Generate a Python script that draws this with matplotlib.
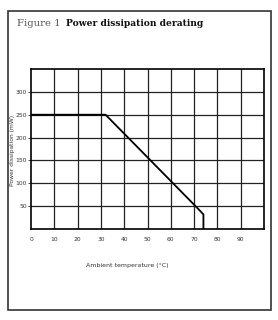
import numpy as np
import matplotlib.pyplot as plt
from matplotlib.patches import Rectangle

# datos de la curva de derating
temp = [0, 32, 71, 74, 74]
potencia = [250, 250, 48, 32, 0]

xticks = [0, 10, 20, 30, 40, 50, 60, 70, 80, 90]
yticks = [50, 100, 150, 200, 250, 300]

W, H = 278, 320
fig = plt.figure(figsize=(W / 100, H / 100), dpi=100)

# marco exterior
fig.patches.append(Rectangle((8 / W, 1 - 310 / H), 263 / W, 299 / H,
                             transform=fig.transFigure, fill=False,
                             edgecolor='#333333', linewidth=1.2))

fig.text(17 / W, 1 - 24 / H, "Figure 1", family='DejaVu Serif',
         fontsize=7.2, color='#555555', va='center')
fig.text(66 / W, 1 - 24 / H, "Power dissipation derating", family='DejaVu Serif',
         fontsize=6.6, fontweight='bold', color='#111111', va='center')

ax = fig.add_axes([31 / W, 1 - 229 / H, 233 / W, 160 / H])
ax.plot(temp, potencia, color='black', linewidth=1.3)
ax.set_xlim(0, 100)
ax.set_ylim(0, 350)

# rejilla cada 10 grados y cada 50 mW
for xv in range(10, 100, 10):
    ax.axvline(xv, color='#222222', linewidth=0.9, zorder=0)
for yv in range(50, 350, 50):
    ax.axhline(yv, color='#222222', linewidth=0.9, zorder=0)

ax.set_xticks(xticks)
ax.set_yticks(yticks)
ax.tick_params(axis='x', length=0, pad=6, labelsize=4.3, colors='#333333')
ax.tick_params(axis='y', length=2, width=0.6, pad=1, labelsize=4.3, colors='#333333')
for s in ax.spines.values():
    s.set_linewidth(1.2)

fig.text(13 / W, 1 - 150 / H, "Power dissipation (mW)", rotation=90,
         fontsize=4.3, color='#333333', ha='center', va='center')
fig.text(127 / W, 1 - 265 / H, "Ambient temperature (°C)",
         fontsize=4.5, color='#333333', ha='center', va='center')

plt.savefig("out.png", dpi=100)
